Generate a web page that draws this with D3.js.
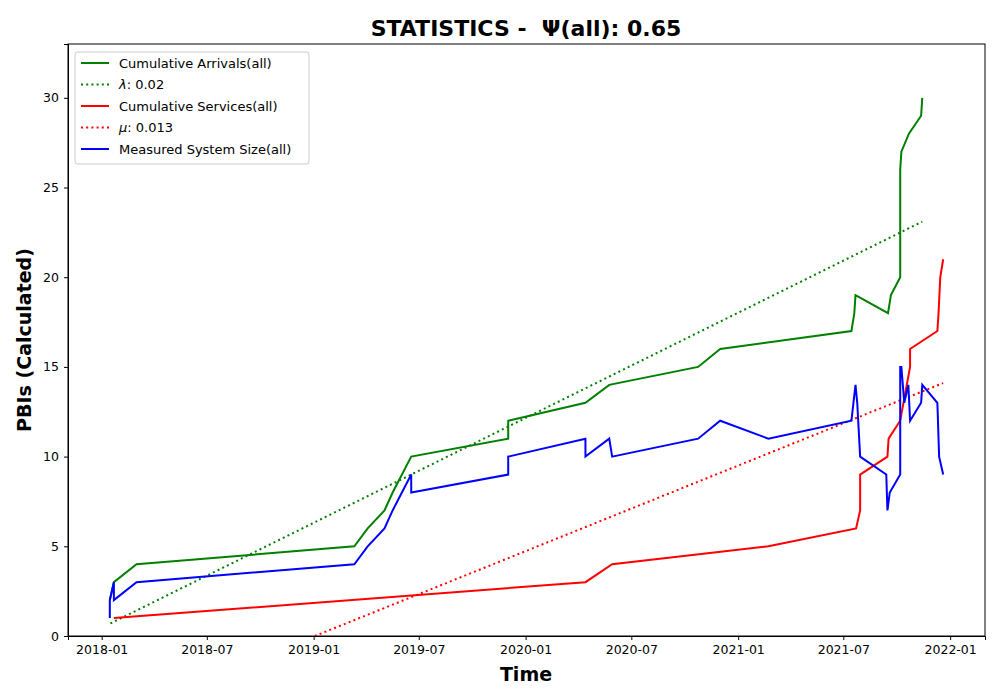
<!DOCTYPE html>
<html><head><meta charset="utf-8">
<script src="https://cdn.jsdelivr.net/npm/d3@7"></script>
<style>body{margin:0;background:#fff;font-family:"DejaVu Sans",sans-serif}</style>
</head><body><svg id="c" width="1000" height="700"></svg>
<script>
// x values are days after 2018-01-01
const arrDays = [14, 21, 60, 435, 458, 487, 501, 533, 700, 700, 833, 874, 1027, 1065, 1291, 1296, 1298, 1354, 1359, 1375, 1375, 1377, 1390, 1411, 1413];
const arrVals = [2, 3, 4, 5, 6, 7, 8, 10, 11, 12, 13, 14, 15, 16, 17, 18, 19, 18, 19, 20, 26, 27, 28, 29, 30];
const lamDays = [15, 1413];
const lamVals = [0.7, 23.1];
const srvDays = [21, 833, 879, 1148, 1299, 1306, 1306, 1353, 1355, 1375, 1392, 1392, 1439, 1441, 1444, 1449];
const srvVals = [1, 3, 4, 5, 6, 7, 9, 10, 11, 12, 15, 16, 17, 18, 20, 21];
const muDays = [367, 1449];
const muVals = [0, 14.1];
const sysDays = [14, 14, 21, 21, 60, 435, 458, 487, 501, 533, 533, 700, 700, 833, 833, 874, 879, 1027, 1065, 1148, 1291, 1298, 1301, 1306, 1351, 1353, 1357, 1375, 1375, 1377, 1382, 1389, 1392, 1411, 1413, 1439, 1442, 1449];
const sysVals = [1, 2, 3, 2, 3, 4, 5, 6, 7, 9, 8, 9, 10, 11, 10, 11, 10, 11, 12, 11, 12, 14, 13, 10, 9, 7, 8, 9, 15, 15, 13, 14, 12, 13, 14, 13, 10, 9];
const yTicks = [0, 5, 10, 15, 20, 25, 30];

const base = new Date(2018, 0, 1);
const toDate = d => d3.timeDay.offset(base, d);
const svg = d3.select("#c");
const m = {l: 68, r: 985, t: 44, b: 636};
const x = d3.scaleTime().domain([new Date(2017, 10, 4), new Date(2022, 2, 2)]).range([m.l, m.r]);
const y = d3.scaleLinear().domain([0, 33]).range([m.b, m.t]);

svg.append("g").attr("transform", `translate(0,${m.b})`)
  .call(d3.axisBottom(x).ticks(d3.timeMonth.every(6)).tickFormat(d3.timeFormat("%Y-%m")).tickSizeOuter(0).tickSize(4).tickPadding(5))
  .call(g => g.selectAll("text").attr("font-size", 12.5).attr("fill", "#000").attr("font-family", "DejaVu Sans"));
svg.append("g").attr("transform", `translate(${m.l},0)`)
  .call(d3.axisLeft(y).tickValues(yTicks).tickSizeOuter(0).tickSize(4).tickPadding(5))
  .call(g => g.selectAll("text").attr("font-size", 12.5).attr("fill", "#000").attr("font-family", "DejaVu Sans"));
svg.append("rect").attr("x", m.l).attr("y", m.t).attr("width", m.r - m.l).attr("height", m.b - m.t)
  .attr("fill", "none").attr("stroke", "#000").attr("stroke-width", 1);

const defs = svg.append("defs");
defs.append("clipPath").attr("id", "clip").append("rect")
  .attr("x", m.l).attr("y", m.t).attr("width", m.r - m.l).attr("height", m.b - m.t);
const line = d3.line().x(d => x(toDate(d[0]))).y(d => y(d[1]));
const series = [
  {days: arrDays, vals: arrVals, color: "green", dash: null, label: "Cumulative Arrivals(all)"},
  {days: lamDays, vals: lamVals, color: "green", dash: "2,3.2", label: "\u03bb: 0.02", it: "\u03bb"},
  {days: srvDays, vals: srvVals, color: "red", dash: null, label: "Cumulative Services(all)"},
  {days: muDays, vals: muVals, color: "red", dash: "2,3.2", label: "\u03bc: 0.013", it: "\u03bc"},
  {days: sysDays, vals: sysVals, color: "blue", dash: null, label: "Measured System Size(all)"}
];
const plot = svg.append("g").attr("clip-path", "url(#clip)");
series.forEach(s => {
  plot.append("path").datum(d3.zip(s.days, s.vals)).attr("d", line)
    .attr("fill", "none").attr("stroke", s.color).attr("stroke-width", 2)
    .attr("stroke-dasharray", s.dash);
});

const lg = svg.append("g").attr("transform", "translate(75,52)");
lg.append("rect").attr("width", 234).attr("height", 112).attr("rx", 3)
  .attr("fill", "#fff").attr("fill-opacity", 0.8).attr("stroke", "#ccc");
series.forEach((s, i) => {
  const yy = 11 + i * 21.5;
  lg.append("line").attr("x1", 6).attr("x2", 34).attr("y1", yy).attr("y2", yy)
    .attr("stroke", s.color).attr("stroke-width", 2).attr("stroke-dasharray", s.dash);
  const t = lg.append("text").attr("x", 44).attr("y", yy + 4.5).attr("font-size", 13);
  if (s.it) {
    t.append("tspan").attr("font-style", "italic").text(s.it);
    t.append("tspan").text(s.label.slice(1));
  } else t.text(s.label);
});

svg.append("text").attr("x", 526).attr("y", 36).attr("text-anchor", "middle").style("white-space", "pre")
  .attr("font-size", 22).attr("font-weight", "bold").text("STATISTICS -  \u03a8(all): 0.65");
svg.append("text").attr("x", 526).attr("y", 681).attr("text-anchor", "middle")
  .attr("font-size", 19).attr("font-weight", "bold").text("Time");
svg.append("text").attr("transform", "translate(31,340) rotate(-90)").attr("text-anchor", "middle")
  .attr("font-size", 19).attr("font-weight", "bold").text("PBIs (Calculated)");
</script></body></html>
